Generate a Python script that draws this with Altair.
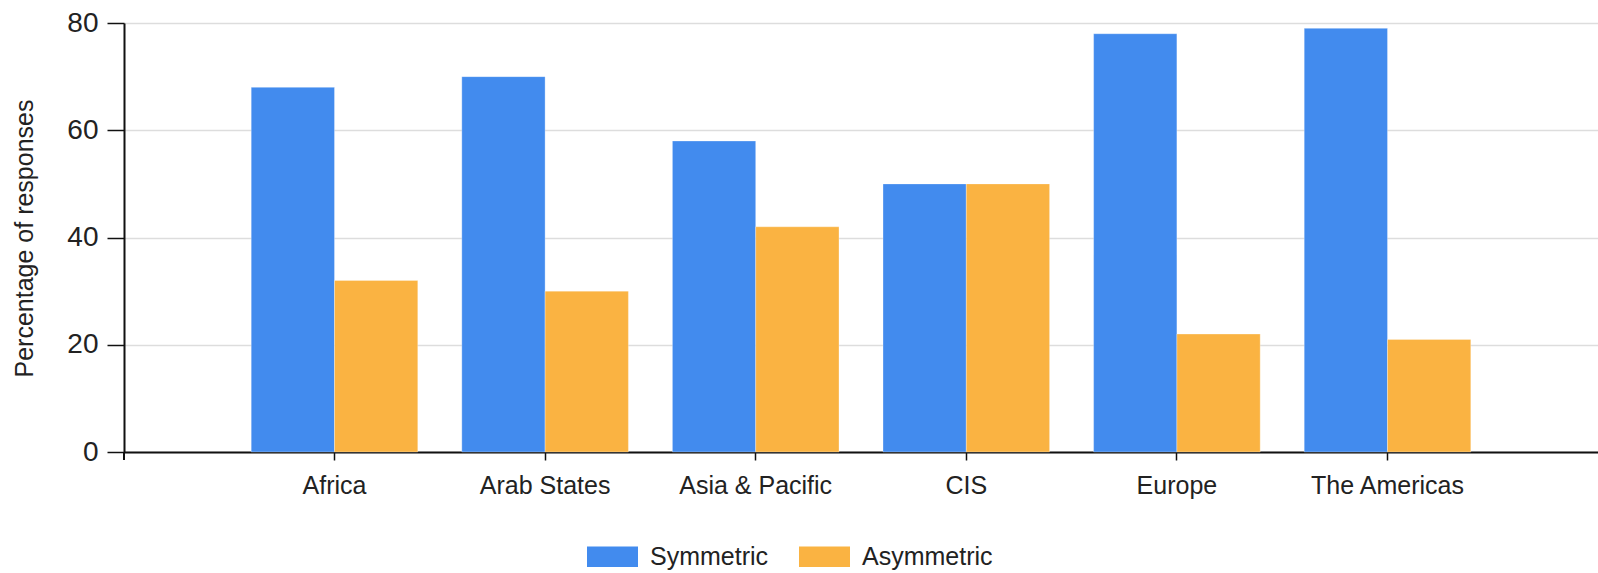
import altair as alt
import pandas as pd

regions = ["Africa", "Arab States", "Asia & Pacific", "CIS", "Europe", "The Americas"]
series = ["Symmetric", "Asymmetric"]
symmetric = [68, 70, 58, 50, 78, 79]
asymmetric = [32, 30, 42, 50, 22, 21]
colors = ["#428BEE", "#FAB342"]
y_ticks = [0, 20, 40, 60, 80]

rows = []
for r, s, a in zip(regions, symmetric, asymmetric):
    rows.append({"region": r, "series": "Symmetric", "value": s})
    rows.append({"region": r, "series": "Asymmetric", "value": a})
df = pd.DataFrame(rows)

W, H = 1474, 429
FONT = "Liberation Sans"

bars = alt.Chart(df).mark_bar(strokeWidth=1, strokeOpacity=0.3, stroke="white").encode(
    x=alt.X(
        "region:N",
        sort=regions,
        title=None,
        scale=alt.Scale(paddingInner=0.209, paddingOuter=0.604),
        axis=alt.Axis(
            labelAngle=0,
            labelFontSize=25,
            labelFont=FONT,
            labelColor="#222222",
            labelPadding=13,
            tickSize=8,
            tickColor="#111111",
            tickWidth=1.5,
            domainColor="#111111",
            domainWidth=2,
            grid=False,
        ),
    ),
    xOffset=alt.XOffset("series:N", sort=series),
    y=alt.Y(
        "value:Q",
        title="Percentage of responses",
        scale=alt.Scale(domain=[0, 80], nice=False),
        axis=alt.Axis(
            values=y_ticks,
            labelFontSize=28,
            labelFont=FONT,
            labelColor="#222222",
            labelPadding=9,
            tickSize=17,
            tickColor="#111111",
            tickWidth=1.5,
            domainColor="#111111",
            domainWidth=2,
            grid=True,
            gridColor="#dddddd",
            gridWidth=1.5,
            titleFont=FONT,
            titleFontSize=25,
            titleFontWeight="normal",
            titleColor="#222222",
            titleX=-100,
            titleY=215,
            titleAngle=270,
            titleAlign="center",
            titleBaseline="middle",
        ),
    ),
    color=alt.Color(
        "series:N",
        sort=series,
        scale=alt.Scale(domain=series, range=colors),
        legend=alt.Legend(
            title=None,
            orient="none",
            legendX=463,
            legendY=508,
            direction="horizontal",
            symbolType="M-1,-0.4L1,-0.4L1,0.4L-1,0.4Z",
            symbolSize=2601,
            symbolStrokeWidth=0,
            symbolOpacity=1,
            labelFontSize=25,
            labelFont=FONT,
            labelColor="#222222",
            labelOffset=12,
            columnPadding=30,
            padding=0,
        ),
    ),
)

origin_tick = alt.Chart(df).mark_rule(color="#111111", strokeWidth=1.5).encode(
    x=alt.value(0), y=alt.value(H), y2=alt.value(H + 8)
)

chart = alt.layer(bars, origin_tick).properties(
    width=W,
    height=H,
    autosize=alt.AutoSizeParams(type="none"),
    padding={"left": 124, "top": 23, "right": 0, "bottom": 573 - 23 - H},
).configure_view(stroke=None)

chart.save("out.html", embed_options={"renderer": "svg", "actions": False})
